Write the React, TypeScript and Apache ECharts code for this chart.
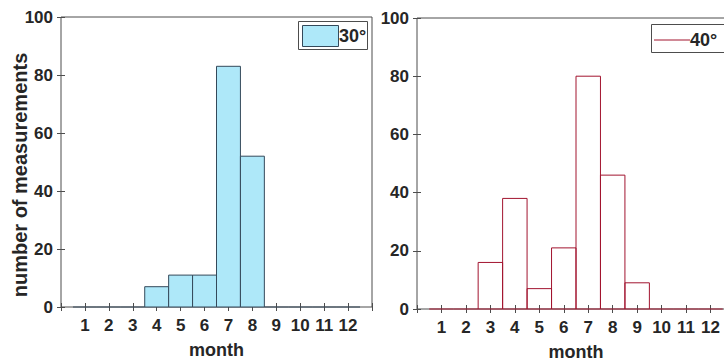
import React, { useEffect, useRef } from "react";
import * as echarts from "echarts";

const months = [1, 2, 3, 4, 5, 6, 7, 8, 9, 10, 11, 12];
const counts30 = [0, 0, 0, 7, 11, 11, 83, 52, 0, 0, 0, 0];
const counts40 = [0, 0, 16, 38, 7, 21, 80, 46, 9, 0, 0, 0];
const legend30 = "30°";
const legend40 = "40°";
const xTitle = "month";
const yTitle = "number of measurements";

const FONT = "'Liberation Sans', Arial, sans-serif";
const TXT = "#262626";
const FRAME = "#4d4d4d";
const CYAN = "#aee8f9";
const CYAN_EDGE = "#34495a";
const RED = "#a2142f";

function histRender(fill: string, stroke: string) {
  return (params: any, api: any) => {
    const x = api.value(0);
    const y = api.value(1);
    const p0 = api.coord([x - 0.5, y]);
    const p1 = api.coord([x + 0.5, 0]);
    if (y === 0) {
      return {
        type: "line",
        shape: { x1: p0[0], y1: p1[1], x2: p1[0], y2: p1[1] },
        style: { stroke, lineWidth: 1 },
      };
    }
    return {
      type: "rect",
      shape: { x: p0[0], y: p0[1], width: p1[0] - p0[0], height: p1[1] - p0[1] },
      style: { fill, stroke, lineWidth: 1 },
    };
  };
}

function xAxes(gridIndex: number) {
  const common = {
    type: "value" as const,
    gridIndex,
    min: 0,
    max: 13,
    interval: 1,
    splitLine: { show: false },
    axisLine: { show: false },
    axisTick: { show: true, inside: true, length: 4, lineStyle: { color: FRAME } },
  };
  return [
    {
      ...common,
      position: "bottom",
      axisLabel: {
        show: true,
        margin: 10,
        color: TXT,
        fontFamily: FONT,
        fontWeight: "bold",
        fontSize: 17,
        formatter: (v: number) => (v >= 1 && v <= 12 ? String(v) : ""),
      },
      name: xTitle,
      nameLocation: "middle",
      nameGap: 34,
      nameMoveOverlap: false,
      nameTextStyle: { color: TXT, fontFamily: FONT, fontWeight: "bold", fontSize: 18, lineHeight: 18 },
    },
    { ...common, position: "top", axisLabel: { show: false } },
  ];
}

function yAxes(gridIndex: number) {
  const common = {
    type: "value" as const,
    gridIndex,
    min: 0,
    max: 100,
    interval: 20,
    splitLine: { show: false },
    axisLine: { show: false },
    axisTick: { show: true, inside: true, length: 4, lineStyle: { color: FRAME } },
  };
  return [
    {
      ...common,
      position: "left",
      axisLabel: {
        show: true,
        margin: 8,
        color: TXT,
        fontFamily: FONT,
        fontWeight: "bold",
        fontSize: 17,
      },
    },
    { ...common, position: "right", axisLabel: { show: false } },
  ];
}

export default function App() {
  const ref = useRef<HTMLDivElement>(null);
  useEffect(() => {
    document.body.style.margin = "0";
    if (!ref.current) return;
    const chart = echarts.init(ref.current, null, { renderer: "svg" });
    const gridStyle = {
      show: true,
      borderColor: FRAME,
      borderWidth: 1,
      backgroundColor: "#ffffff",
      outerBoundsMode: "none",
      containLabel: false,
    };
    chart.setOption({
      animation: false,
      backgroundColor: "#ffffff",
      grid: [
        { ...gridStyle, left: 61, top: 17, width: 311, height: 290 },
        { ...gridStyle, left: 417, top: 18, width: 318, height: 291 },
      ],
      xAxis: [...xAxes(0), ...xAxes(1)],
      yAxis: [...yAxes(0), ...yAxes(1)],
      series: [
        {
          type: "custom",
          name: legend30,
          xAxisIndex: 0,
          yAxisIndex: 0,
          renderItem: histRender(CYAN, CYAN_EDGE),
          encode: { x: 0, y: 1 },
          data: months.map((m, i) => [m, counts30[i]]),
          z: 3,
        },
        {
          type: "custom",
          name: legend40,
          xAxisIndex: 2,
          yAxisIndex: 2,
          renderItem: histRender("rgba(255,255,255,0)", RED),
          encode: { x: 0, y: 1 },
          data: months.map((m, i) => [m, counts40[i]]),
          z: 3,
        },
      ],
      graphic: [
        {
          type: "text",
          x: 20,
          y: 175,
          rotation: Math.PI / 2,
          style: { text: yTitle, fill: TXT, font: `bold 20px ${FONT}`, align: "center", verticalAlign: "middle" },
        },
        {
          type: "group",
          z: 100,
          children: [
            { type: "rect", shape: { x: 298.5, y: 21.5, width: 69, height: 28 }, style: { fill: "#fff", stroke: FRAME, lineWidth: 1 } },
            { type: "rect", shape: { x: 302.5, y: 25.5, width: 36, height: 21 }, style: { fill: CYAN, stroke: CYAN_EDGE, lineWidth: 1 } },
            { type: "text", x: 339, y: 36, style: { text: legend30, fill: TXT, font: `bold 18px ${FONT}`, verticalAlign: "middle", align: "left" } },
          ],
        },
        {
          type: "group",
          z: 100,
          children: [
            { type: "rect", shape: { x: 651.5, y: 24.5, width: 73, height: 28 }, style: { fill: "#fff", stroke: FRAME, lineWidth: 1 } },
            { type: "line", shape: { x1: 654, y1: 40, x2: 690, y2: 40 }, style: { stroke: RED, lineWidth: 1 } },
            { type: "text", x: 690, y: 40, style: { text: legend40, fill: TXT, font: `bold 18px ${FONT}`, verticalAlign: "middle", align: "left" } },
          ],
        },
      ],
    });
    return () => chart.dispose();
  }, []);
  return <div ref={ref} style={{ width: 724, height: 359 }} />;
}
